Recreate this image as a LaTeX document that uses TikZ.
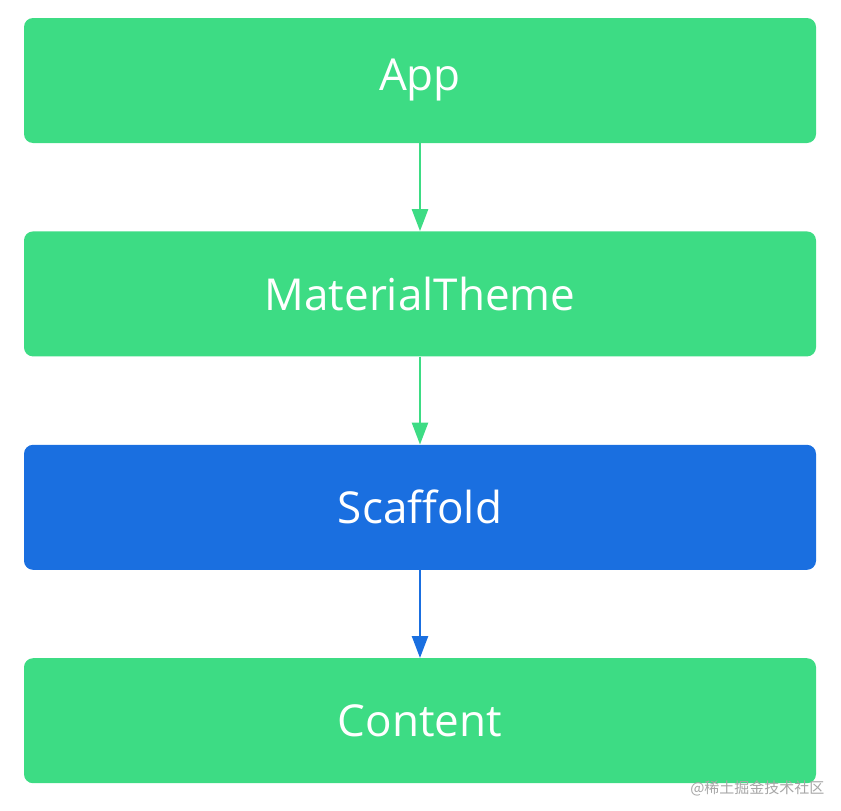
\documentclass[tikz,border=0pt]{standalone}
\usepackage{fontspec}
\setmainfont{Open Sans}
\newfontfamily\cjk{Noto Sans CJK SC}
\usetikzlibrary{positioning,arrows.meta}
\definecolor{droidgreen}{HTML}{3DDC84}
\definecolor{scaffblue}{HTML}{1A6FE0}
\begin{document}
\begin{tikzpicture}[x=1pt,y=1pt,
  node distance=88pt,
  every node/.style = {shape=rectangle, rounded corners=9pt, minimum width=792pt,
    minimum height=125pt, text=white, font=\fontsize{44}{50}\selectfont},
  layer/.style = {fill=droidgreen},
  flow/.style = {-{Triangle[length=22pt,width=16pt]}, line width=2.5pt}
  ]
  \useasboundingbox (0,0) rectangle (841,-811);
  \node[layer] (app) at (420,-80.5) {App};
  \node[layer, below=of app] (theme) {MaterialTheme};
  \node[fill=scaffblue, below=of theme] (scaffold) {Scaffold};
  \node[layer, below=of scaffold] (content) {Content};
  \draw[flow, droidgreen] (app) -- (theme);
  \draw[flow, droidgreen] (theme) -- (scaffold);
  \draw[flow, scaffblue] (scaffold) -- (content);
  % watermark
  \node[draw=none, fill=none, minimum width=0pt, minimum height=0pt, text=gray!70,
    font=\cjk\fontsize{15}{18}\selectfont, anchor=south east] (mark) at (828,-800) {@稀土掘金技术社区};
\end{tikzpicture}
\end{document}
